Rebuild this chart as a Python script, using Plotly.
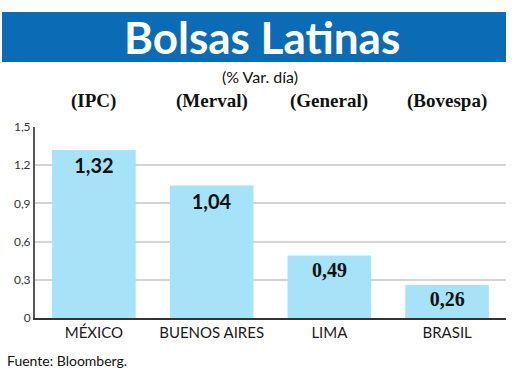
import plotly.graph_objects as go

categories = ["MÉXICO", "BUENOS AIRES", "LIMA", "BRASIL"]
indices = ["(IPC)", "(Merval)", "(General)", "(Bovespa)"]
values = [1.32, 1.04, 0.49, 0.26]
value_labels = ["1,32", "1,04", "0,49", "0,26"]
tick_vals = [0, 0.3, 0.6, 0.9, 1.2, 1.5]
tick_text = ["0", "0,3", "0,6", "0,9", "1,2", "1,5"]

W, H = 520, 379
ML, MR, MT, MB = 35, 14, 127, 61
PW, PH = W - ML - MR, H - MT - MB

def px(x):
    return (x - ML) / PW

def py(y):
    return (H - MB - y) / PH

value_fonts = ["Lato", "Lato", "Liberation Serif", "Liberation Serif"]

fig = go.Figure()
fig.add_trace(go.Bar(
    x=categories, y=values, width=0.71,
    marker=dict(color="#a6e2f8", line=dict(width=0)),
    text=value_labels, textposition="inside", insidetextanchor="end",
    textangle=0, constraintext="none",
    textfont=dict(family=value_fonts, size=20, color="#111111", weight="bold"),
    hoverinfo="skip",
))

fig.update_layout(
    width=W, height=H,
    margin=dict(l=ML, r=MR, t=MT, b=MB),
    paper_bgcolor="white", plot_bgcolor="white",
    showlegend=False,
    bargap=0.29,
    xaxis=dict(
        showgrid=False, showline=True, linecolor="#333333", linewidth=2,
        ticks="", tickfont=dict(family="Lato", size=15, color="#1a1a1a"),
        fixedrange=True,
    ),
    yaxis=dict(
        range=[0, 1.5], tickvals=tick_vals, ticktext=tick_text,
        showgrid=True, gridcolor="#d4d4d4", gridwidth=1.5,
        showline=True, linecolor="#555555", linewidth=2,
        zeroline=False, ticks="",
        tickfont=dict(family="Lato", size=12, color="#333333"),
        fixedrange=True,
    ),
    shapes=[dict(
        type="rect", xref="paper", yref="paper",
        x0=px(2), x1=px(506), y0=py(62), y1=py(12),
        fillcolor="#0b6cb5", line=dict(width=0), layer="below",
    )],
)

annotations = [
    dict(text="<b>Bolsas Latinas</b>", x=px(262), y=py(37), xref="paper", yref="paper",
         showarrow=False, font=dict(family="Lato", size=44, color="white"),
         xanchor="center", yanchor="middle"),
    dict(text="(% Var. día)", x=px(260), y=py(76), xref="paper", yref="paper",
         showarrow=False, font=dict(family="Lato", size=16, color="#111111"),
         xanchor="center", yanchor="middle"),
    dict(text="Fuente: Bloomberg.", x=px(5), y=py(360), xref="paper", yref="paper",
         showarrow=False, font=dict(family="Lato", size=14, color="#111111"),
         xanchor="left", yanchor="middle"),
]
for cat, idx in zip(categories, indices):
    annotations.append(dict(
        text="<b>" + idx + "</b>", x=cat, y=py(101), xref="x", yref="paper",
        showarrow=False, font=dict(family="Liberation Serif", size=19, color="#111111"),
        xanchor="center", yanchor="middle",
    ))
fig.update_layout(annotations=annotations)

fig.write_html("out.html", config={"displayModeBar": False})
